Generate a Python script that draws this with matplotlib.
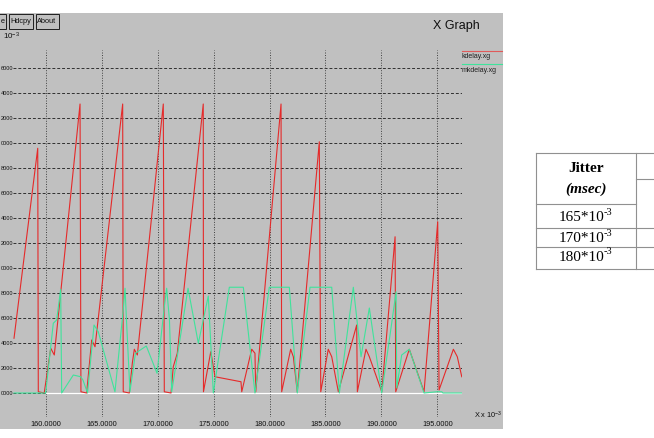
import matplotlib
matplotlib.use("Agg")
import matplotlib.pyplot as plt
from matplotlib.patches import Rectangle
from matplotlib.lines import Line2D

plt.rcParams['font.family'] = ['Liberation Sans', 'DejaVu Sans']
plt.rcParams['mathtext.fontset'] = 'custom'
plt.rcParams['mathtext.rm'] = 'Liberation Sans'
plt.rcParams['mathtext.it'] = 'Liberation Sans'

# data (x in 10^-3 s, y as labelled)
red_x = [157.17, 159.29, 159.34, 159.87, 160.45, 160.77, 163.07, 163.15, 163.66, 164.11,
         164.41, 166.88, 166.93, 167.47, 167.74, 167.92, 168.19, 170.51, 170.60, 171.20,
         171.40, 171.76, 174.08, 174.10, 174.75, 174.82, 175.13, 177.45, 177.52, 178.41,
         178.70, 178.77, 181.03, 181.09, 181.89, 182.13, 182.48, 184.45, 184.51, 184.58,
         185.25, 185.56, 186.15, 187.79, 187.85, 188.62, 188.92, 190.03, 191.22, 191.28,
         192.49, 193.81, 195.03, 195.15, 196.43, 196.78, 197.18]
red_y = [0.438, 1.958, 0.01, 0.0, 0.358, 0.304, 2.312, 0.01, 0.0, 0.424,
         0.370, 2.312, 0.01, 0.0, 0.238, 0.350, 0.304, 2.312, 0.01, 0.0,
         0.210, 0.318, 2.312, 0.01, 0.330, 0.296, 0.130, 0.090, 0.01, 0.350,
         0.318, 0.01, 2.312, 0.01, 0.350, 0.290, 0.01, 2.010, 1.010, 0.01,
         0.350, 0.290, 0.01, 0.544, 0.01, 0.350, 0.290, 0.01, 1.250, 0.01,
         0.350, 0.01, 1.370, 0.024, 0.350, 0.290, 0.130]

green_x = [157.17, 160.0, 160.68, 160.98, 161.34, 161.43, 162.47, 163.13, 163.33, 163.74,
           164.32, 164.70, 166.19, 166.93, 167.09, 167.22, 167.53, 168.02, 168.99, 169.95,
           170.60, 170.81, 171.06, 171.26, 171.85, 172.72, 173.64, 174.53, 174.98, 176.41,
           177.66, 178.70, 179.98, 181.77, 182.48, 183.62, 185.56, 186.24, 187.49, 188.18,
           188.92, 190.03, 190.92, 191.31, 191.37, 191.81, 192.49, 193.81, 194.94, 195.39,
           195.50, 197.18]
green_y = [0.0, 0.0, 0.558, 0.584, 0.830, 0.0, 0.144, 0.130, 0.104, 0.0,
           0.544, 0.490, 0.01, 0.664, 0.838, 0.584, 0.01, 0.318, 0.376, 0.158,
           0.690, 0.838, 0.584, 0.01, 0.344, 0.838, 0.398, 0.776, 0.0, 0.846,
           0.846, 0.0, 0.846, 0.846, 0.0, 0.846, 0.846, 0.0, 0.846, 0.290,
           0.680, 0.0, 0.560, 0.810, 0.040, 0.304, 0.350, 0.0, 0.01, 0.01,
           0.0, 0.0]

zero_x = [160.0, 197.18]
zero_y = [0.0, 0.0]

x_ticks = [160, 165, 170, 175, 180, 185, 190, 195]
y_ticks = [0.0, 0.2, 0.4, 0.6, 0.8, 1.0, 1.2, 1.4, 1.6, 1.8, 2.0, 2.2, 2.4, 2.6]
# only the part after the decimal point is visible in the screenshot
y_labels = ["0000", "2000", "4000", "6000", "8000", "0000", "2000", "4000",
            "6000", "8000", "0000", "2000", "4000", "6000"]

series_names = ["kdelay.xg", "mkdelay.xg"]
jitter_rows = ["165", "170", "180"]

W, H = 654, 438


def fx(px):
    return px / W


def fy(py):
    return 1 - py / H


fig = plt.figure(figsize=(6.54, 4.38), dpi=100)
fig.patch.set_facecolor("white")

# xgraph window background
fig.patches.append(Rectangle((0, fy(429)), fx(503), fy(13) - fy(429),
                             transform=fig.transFigure, facecolor="#c0c0c0",
                             edgecolor="none", zorder=-2))

# buttons
for label, x0, x1, tx in [("e", -10, 6, 3), ("Hdcpy", 8.5, 33, 20.75),
                          ("About", 35.5, 58.5, 47)]:
    fig.patches.append(Rectangle((fx(x0), fy(29)), fx(x1 - x0), fy(14) - fy(29),
                                 transform=fig.transFigure, facecolor="#c0c0c0",
                                 edgecolor="#202020", lw=0.7, zorder=-1))
    fig.text(fx(tx), fy(21.5), label, fontsize=5.3, ha="center",
             va="center", color="#101010")

fig.text(fx(3), fy(36), r"10$^{-3}$", fontsize=5.8, ha="left", va="center",
         color="#101010")
fig.text(fx(433), fy(26), "X Graph", fontsize=9, ha="left", va="center",
         color="#101010")
fig.text(fx(474), fy(415), r"X x 10$^{-3}$", fontsize=5.3, ha="left",
         va="center", color="#101010")

ax = fig.add_axes([fx(13), fy(417), fx(462) - fx(13), fy(50) - fy(417)])
ax.set_facecolor("none")
for s in ax.spines.values():
    s.set_visible(False)
ax.set_xlim(157.08, 197.20)
ax.set_ylim(-0.192, 2.744)

for v in y_ticks:
    ax.axhline(v, color="#303030", lw=0.7, dashes=(3, 2), zorder=1)
for v in x_ticks:
    ax.axvline(v, color="#404040", lw=0.7, dashes=(1, 1.6), zorder=1)

ax.set_xticks(x_ticks, labels=[f"{v:.4f}" for v in x_ticks])
ax.set_yticks(y_ticks, labels=y_labels)
ax.tick_params(axis="x", length=0, pad=3.2, labelsize=5.3, labelcolor="#101010")
ax.tick_params(axis="y", length=0, pad=0, labelsize=4.1, labelcolor="#101010")

ax.plot(zero_x, zero_y, color="white", lw=0.9, zorder=2)
ax.plot(red_x, red_y, color="#e52a2a", lw=0.8, zorder=3)
ax.plot(green_x, green_y, color="#3fe39b", lw=0.8, zorder=4)

# legend
for name, col, ly in zip(series_names, ["#e05a5a", "#3fe39b"], [50.7, 64.3]):
    fig.add_artist(Line2D([fx(462), fx(502)], [fy(ly), fy(ly)], color=col, lw=0.8))
    fig.text(fx(462), fy(ly + 6), name, fontsize=5.0, ha="left", va="center",
             color="#202020")

# table on the right
tc = "#909090"
lines = [
    ((536, 153), (654, 153)),
    ((536, 153), (536, 269.3)),
    ((635.7, 153), (635.7, 269.3)),
    ((536, 204.3), (635.7, 204.3)),
    ((635.7, 179.3), (654, 179.3)),
    ((536, 228.3), (654, 228.3)),
    ((536, 247.3), (654, 247.3)),
    ((536, 269.3), (654, 269.3)),
]
for (x0, y0), (x1, y1) in lines:
    fig.add_artist(Line2D([fx(x0), fx(x1)], [fy(y0), fy(y1)], color=tc, lw=0.8))

serif = ["Liberation Serif", "DejaVu Serif"]
fig.text(fx(586), fy(168), "Jitter", fontsize=11, fontweight="bold", family=serif,
         ha="center", va="center")
fig.text(fx(586), fy(189), "(msec)", fontsize=11, fontweight="bold", style="italic",
         family=serif, ha="center", va="center")
for label, cy in zip(jitter_rows, [217, 237.5, 256.5]):
    fig.text(fx(559), fy(cy + 1), label + "*10", fontsize=11, family=serif,
             ha="left", va="center")
    fig.text(fx(603.5), fy(cy - 4.5), "-3", fontsize=7.5, family=serif,
             ha="left", va="center")

fig.savefig("out.png", dpi=100, facecolor="white")
